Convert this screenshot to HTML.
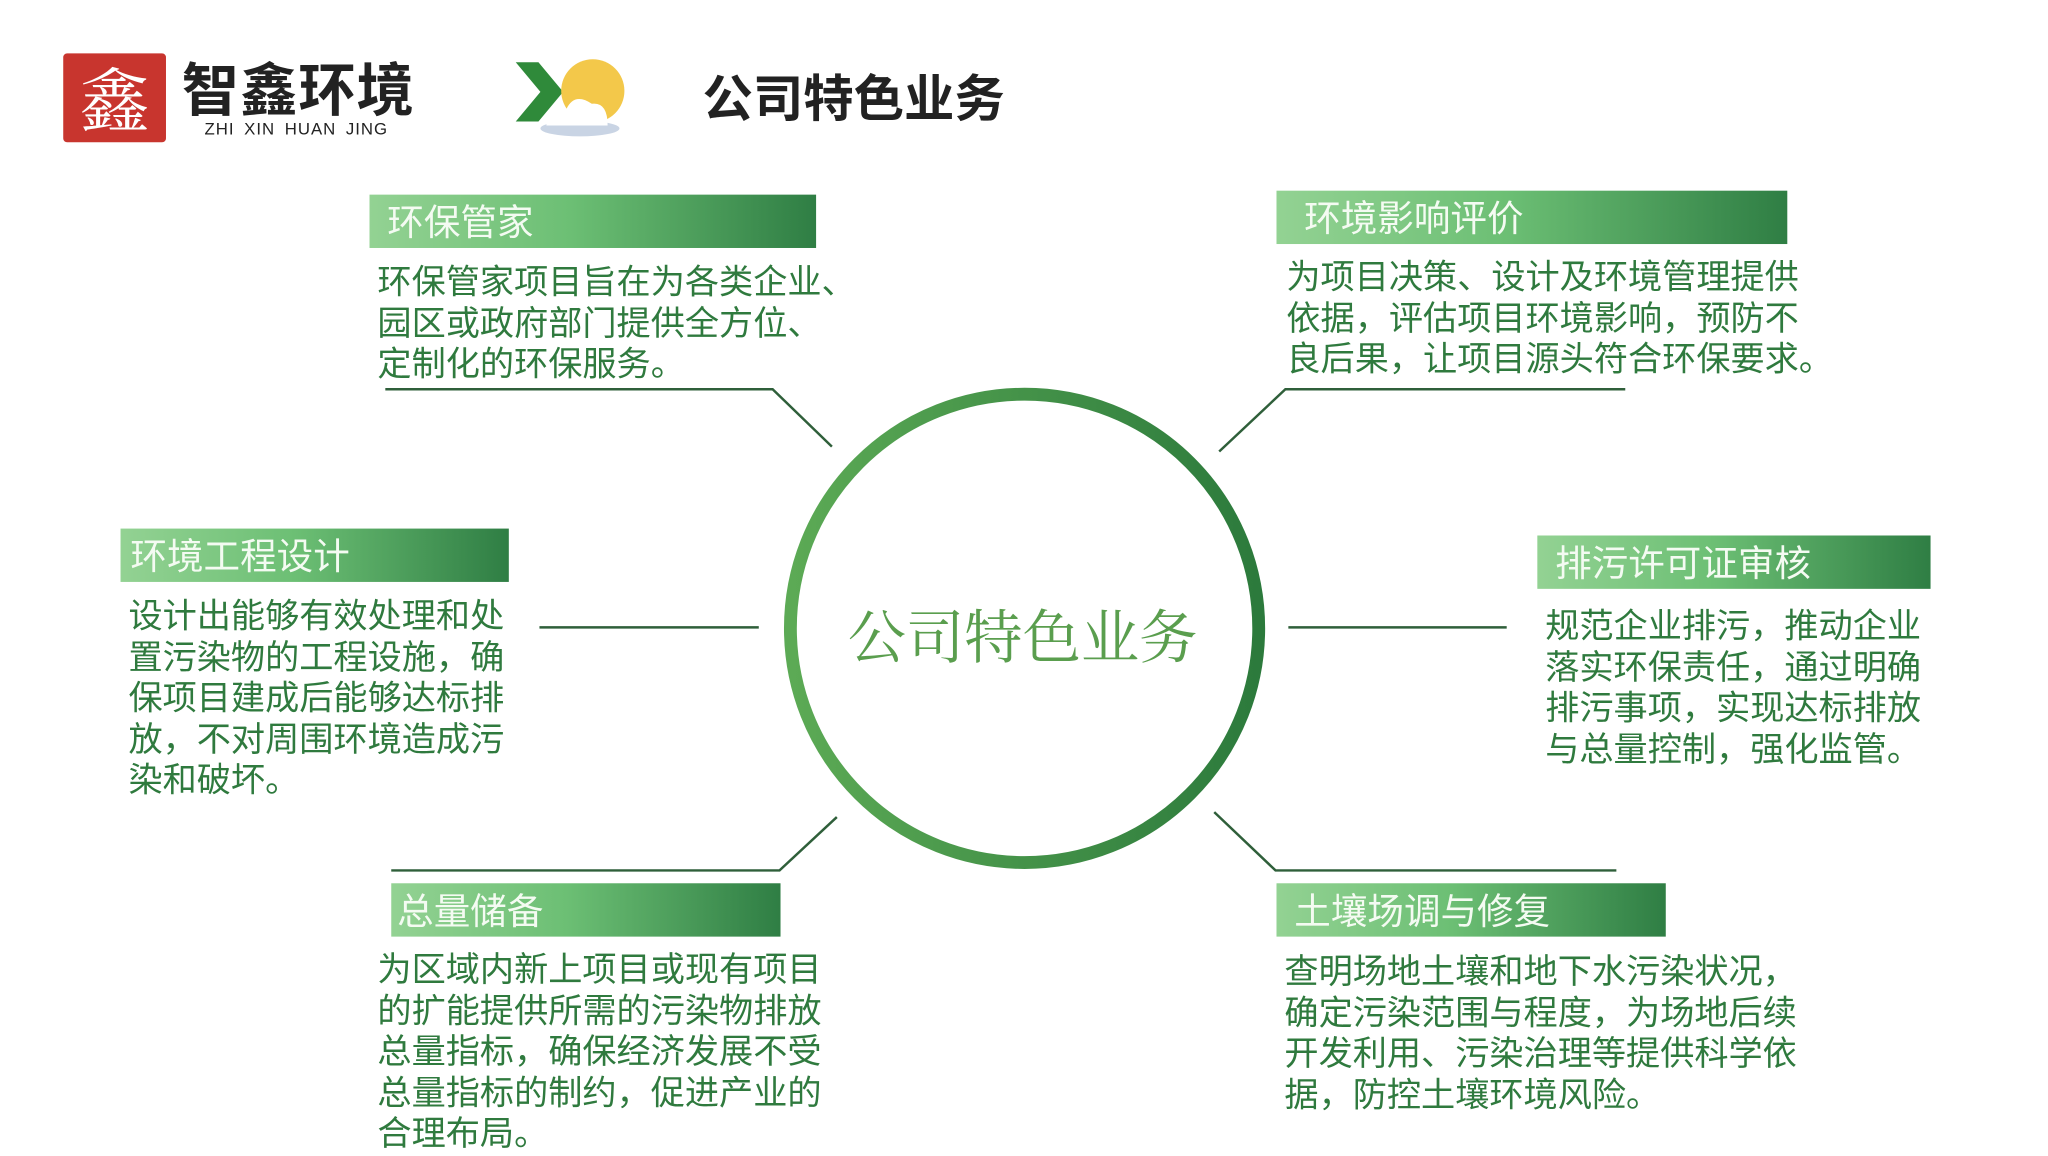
<!DOCTYPE html>
<html><head><meta charset="utf-8"><style>
body{margin:0;width:2048px;height:1150px;background:#fff;position:relative;overflow:hidden;font-family:"Liberation Sans","Noto Sans CJK SC",sans-serif}
#w{position:absolute;left:0;top:0;width:2048px;height:1150px;transform:scale(0.988);transform-origin:0 0}
.a{position:absolute}
.hd{position:absolute;height:54px;background:linear-gradient(90deg,#93d293 0%,#6cbf74 45%,#2f7e44 100%);color:#f4fbf2;font-size:37px;line-height:58px;padding-left:18px;box-sizing:border-box;white-space:nowrap;overflow:hidden}
.bd{position:absolute;color:#2f7a3e;font-size:34.6px;line-height:41.6px;white-space:nowrap}
</style></head><body><div id="w">
<!-- logo -->
<div class="a" style="left:64px;top:54px;width:104px;height:90px;background:#c8352e;border-radius:4px"></div>
<div class="a" style="left:68px;top:52px;width:96px;height:92px;color:#fff;font-size:70px;line-height:92px;text-align:center;font-family:'Noto Serif CJK SC',serif">鑫</div>
<div class="a" style="left:184px;top:62px;font-size:58px;line-height:62px;font-weight:bold;color:#222;letter-spacing:1px">智鑫环境</div>
<div class="a" style="left:207px;top:122px;font-size:17px;line-height:18px;color:#222;letter-spacing:1px;word-spacing:4px">ZHI XIN HUAN JING</div>
<!-- icon -->
<svg class="a" style="left:515px;top:55px" width="135" height="85">
<polygon points="7,8 30,8 55,38 30,68 7,68 32,38" fill="#2f8a3a"/>
<circle cx="85" cy="37" r="32" fill="#f3c84a"/>
<ellipse cx="72" cy="75" rx="40" ry="8" fill="#c9d4e4"/>
<path d="M38,72 Q40,54 58,56 Q66,38 84,50 Q100,48 100,72 Z" fill="#fff"/>
</svg>
<div class="a" style="left:711px;top:69px;font-size:51px;line-height:64px;font-weight:bold;color:#222">公司特色业务</div>
<!-- lines & circle -->
<svg class="a" style="left:0;top:0" width="2048" height="1150">
<defs><linearGradient id="g" x1="0" y1="0" x2="1" y2="0"><stop offset="0" stop-color="#5caa55"/><stop offset="1" stop-color="#2c7a3c"/></linearGradient></defs>
<circle cx="1037" cy="636" r="237" fill="none" stroke="url(#g)" stroke-width="13"/>
<g stroke="#2f5f3a" stroke-width="2.5" fill="none">
<polyline points="390,394 782,394 842,452"/>
<polyline points="1234,457 1301,394 1645,394"/>
<line x1="546" y1="635" x2="768" y2="635"/>
<line x1="1304" y1="635" x2="1525" y2="635"/>
<polyline points="396,881 789,881 847,827"/>
<polyline points="1229,822 1291,881 1636,881"/>
</g>
</svg>
<div class="a" style="left:858px;top:598px;font-size:59px;color:#5a9e4e;font-family:'Noto Serif CJK SC',serif;white-space:nowrap">公司特色业务</div>

<div class="hd" style="left:374px;top:197px;width:452px">环保管家</div>
<div class="bd" style="left:382px;top:266px">环保管家项目旨在为各类企业、<br>园区或政府部门提供全方位、<br>定制化的环保服务。</div>

<div class="hd" style="left:1292px;top:193px;width:517px;padding-left:28px">环境影响评价</div>
<div class="bd" style="left:1302px;top:261px">为项目决策、设计及环境管理提供<br>依据，评估项目环境影响，预防不<br>良后果，让项目源头符合环保要求。</div>

<div class="hd" style="left:122px;top:535px;width:393px;padding-left:10px">环境工程设计</div>
<div class="bd" style="left:130px;top:604px">设计出能够有效处理和处<br>置污染物的工程设施，确<br>保项目建成后能够达标排<br>放，不对周围环境造成污<br>染和破坏。</div>

<div class="hd" style="left:1556px;top:542px;width:398px">排污许可证审核</div>
<div class="bd" style="left:1564px;top:614px">规范企业排污，推动企业<br>落实环保责任，通过明确<br>排污事项，实现达标排放<br>与总量控制，强化监管。</div>

<div class="hd" style="left:396px;top:894px;width:394px;padding-left:6px">总量储备</div>
<div class="bd" style="left:382px;top:962px">为区域内新上项目或现有项目<br>的扩能提供所需的污染物排放<br>总量指标，确保经济发展不受<br>总量指标的制约，促进产业的<br>合理布局。</div>

<div class="hd" style="left:1292px;top:894px;width:394px">土壤场调与修复</div>
<div class="bd" style="left:1300px;top:964px">查明场地土壤和地下水污染状况，<br>确定污染范围与程度，为场地后续<br>开发利用、污染治理等提供科学依<br>据，防控土壤环境风险。</div>
</div></body></html>
